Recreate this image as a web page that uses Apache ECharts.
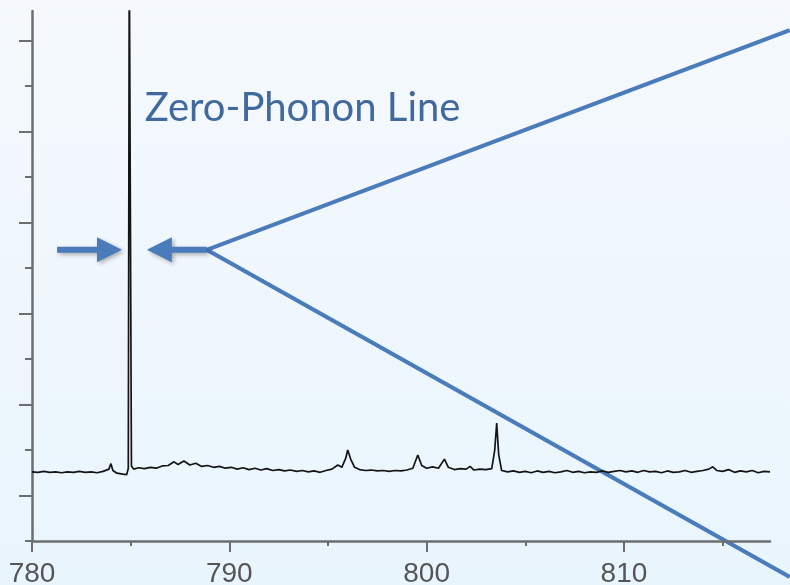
<!DOCTYPE html>
<html>
<head>
<meta charset="utf-8">
<script src="https://cdn.jsdelivr.net/npm/echarts@6/dist/echarts.min.js"></script>
<style>
  html, body { margin: 0; padding: 0; }
  #spec { width: 790px; height: 585px; }
</style>
</head>
<body>
<div id="spec"></div>
<script>
// wavelength (nm) and intensity (arb. units, 1 = one small y tick)
var wl = [
  780.0, 780.3, 780.6, 780.9, 781.2, 781.5, 781.8, 782.1, 782.4, 782.7,
  783.0, 783.3, 783.6, 783.9, 784.0, 784.1, 784.3, 784.6, 784.8, 784.88,
  784.93, 784.99, 785.04, 785.15, 785.4, 785.7, 786.0, 786.3, 786.6, 786.9, 787.2,
  787.4, 787.7, 788.0, 788.3, 788.6, 788.9, 789.2, 789.5, 789.8, 790.1,
  790.4, 790.7, 791.0, 791.3, 791.6, 791.9, 792.2, 792.5, 792.8, 793.1,
  793.4, 793.7, 794.0, 794.3, 794.6, 794.9, 795.2, 795.5, 795.7, 795.9,
  796.0, 796.15, 796.35, 796.6, 796.9, 797.2, 797.5, 797.8, 798.1, 798.4,
  798.7, 799.0, 799.3, 799.55, 799.75, 800.0, 800.3, 800.6, 800.9, 801.1,
  801.4, 801.7, 802.0, 802.2, 802.4, 802.7, 803.0, 803.3, 803.45, 803.55,
  803.65, 803.8, 804.1, 804.4, 804.7, 805.0, 805.3, 805.6, 805.9, 806.2,
  806.5, 806.8, 807.1, 807.4, 807.7, 808.0, 808.3, 808.6, 808.9, 809.2,
  809.5, 809.8, 810.1, 810.4, 810.7, 811.0, 811.3, 811.6, 811.9, 812.2,
  812.5, 812.8, 813.1, 813.4, 813.7, 814.0, 814.3, 814.5, 814.7, 815.0,
  815.3, 815.6, 815.9, 816.2, 816.5, 816.8, 817.1, 817.4
];
var counts = [
  1.52, 1.51, 1.53, 1.51, 1.52, 1.50, 1.52, 1.51, 1.53, 1.51,
  1.52, 1.50, 1.53, 1.58, 1.70, 1.55, 1.49, 1.47, 1.46, 1.60,
  13.0, 13.0, 1.65, 1.58, 1.61, 1.59, 1.62, 1.60, 1.65, 1.66, 1.74,
  1.68, 1.76, 1.67, 1.71, 1.64, 1.66, 1.62, 1.64, 1.60, 1.62,
  1.58, 1.61, 1.57, 1.60, 1.56, 1.59, 1.55, 1.57, 1.54, 1.56,
  1.53, 1.55, 1.52, 1.54, 1.51, 1.55, 1.58, 1.67, 1.62, 1.82,
  2.00, 1.80, 1.62, 1.57, 1.55, 1.56, 1.54, 1.55, 1.53, 1.55,
  1.54, 1.56, 1.60, 1.89, 1.66, 1.60, 1.63, 1.60, 1.80, 1.62,
  1.57, 1.59, 1.58, 1.64, 1.56, 1.58, 1.57, 1.59, 2.00, 2.59,
  1.90, 1.55, 1.52, 1.54, 1.51, 1.53, 1.50, 1.54, 1.51, 1.53,
  1.50, 1.52, 1.55, 1.51, 1.53, 1.50, 1.52, 1.51, 1.54, 1.51,
  1.53, 1.55, 1.52, 1.54, 1.51, 1.55, 1.52, 1.53, 1.50, 1.54,
  1.51, 1.52, 1.55, 1.51, 1.53, 1.55, 1.58, 1.63, 1.55, 1.53,
  1.57, 1.51, 1.54, 1.52, 1.55, 1.50, 1.53, 1.52
];
var xMajor = [780, 790, 800, 810];
var xMinor = [785, 795, 805, 815];
var yLong = [1, 3, 5, 7, 9, 11];
var yShort = [0, 2, 4, 6, 8, 10];

var chart = echarts.init(document.getElementById('spec'));

var axisGrey = '#6e6e6e';
var blue = '#4a7cbc';

chart.setOption({
  animation: false,
  backgroundColor: {
    type: 'linear', x: 0, y: 0, x2: 0, y2: 1,
    colorStops: [
      { offset: 0, color: '#f5f9fd' },
      { offset: 1, color: '#e9f5fd' }
    ]
  },
  grid: { left: 32, right: 20, top: 11, bottom: 44, outerBoundsMode: 'none' },
  xAxis: [{
    type: 'value', min: 780, max: 817.4,
    axisLine: { lineStyle: { color: axisGrey, width: 2.5 } },
    axisTick: { customValues: xMajor, length: 11, lineStyle: { color: axisGrey, width: 2 } },
    axisLabel: {
      customValues: xMajor, margin: 19,
      color: '#555', fontSize: 28, fontFamily: 'Liberation Sans Narrow, Liberation Sans, sans-serif'
    },
    splitLine: { show: false }
  }, {
    type: 'value', min: 780, max: 817.4, position: 'bottom',
    axisLine: { show: false },
    axisTick: { customValues: xMinor, length: 5, lineStyle: { color: axisGrey, width: 2 } },
    axisLabel: { show: false },
    splitLine: { show: false }
  }],
  yAxis: [{
    type: 'value', min: 0, max: 11.65,
    axisLine: { show: true, lineStyle: { color: axisGrey, width: 2.5 } },
    axisTick: { show: true, customValues: yShort, length: 7, lineStyle: { color: axisGrey, width: 2 } },
    axisLabel: { show: false },
    splitLine: { show: false }
  }, {
    type: 'value', min: 0, max: 11.65, position: 'left',
    axisLine: { show: false },
    axisTick: { show: true, customValues: yLong, length: 13, lineStyle: { color: axisGrey, width: 2 } },
    axisLabel: { show: false },
    splitLine: { show: false }
  }],
  series: [{
    type: 'line',
    data: wl.map(function (w, i) { return [w, counts[i]]; }),
    showSymbol: false,
    clip: true,
    lineStyle: { color: '#141414', width: 1.7 }
  }]
});

// annotation, placed in data coordinates
function px(x, y) {
  return chart.convertToPixel({ xAxisIndex: 0, yAxisIndex: 0 }, [x, y]);
}
function arrow(tailX, tipX, yv) {
  var t = px(tailX, yv), h = px(tipX, yv);
  var d = h[0] > t[0] ? 1 : -1, y = h[1], hl = 25, hw = 12.5, sw = 3;
  return {
    type: 'polygon',
    shape: { points: [
      [t[0], y - sw], [h[0] - d * hl, y - sw], [h[0] - d * hl, y - hw], [h[0], y],
      [h[0] - d * hl, y + hw], [h[0] - d * hl, y + sw], [t[0], y + sw]
    ] },
    style: { fill: blue, shadowBlur: 4, shadowOffsetX: 2, shadowOffsetY: 2, shadowColor: 'rgba(0,0,0,0.3)' }
  };
}
var arrowY = 6.4;
var apex = px(788.86, arrowY);
var label = px(785.72, 9.96);

chart.setOption({
  graphic: [
    {
      type: 'polyline',
      shape: { points: [px(818.4, 11.23), apex, px(818.4, -0.79)] },
      style: { stroke: blue, lineWidth: 4, fill: null, lineJoin: 'miter' }
    },
    arrow(781.27, 784.56, arrowY),
    arrow(788.86, 785.82, arrowY),
    {
      type: 'text',
      x: label[0], y: label[1],
      style: {
        text: 'Zero-Phonon Line', fill: '#41699d',
        font: '40px Lato', verticalAlign: 'top', align: 'left'
      }
    }
  ]
});
</script>
</body>
</html>
